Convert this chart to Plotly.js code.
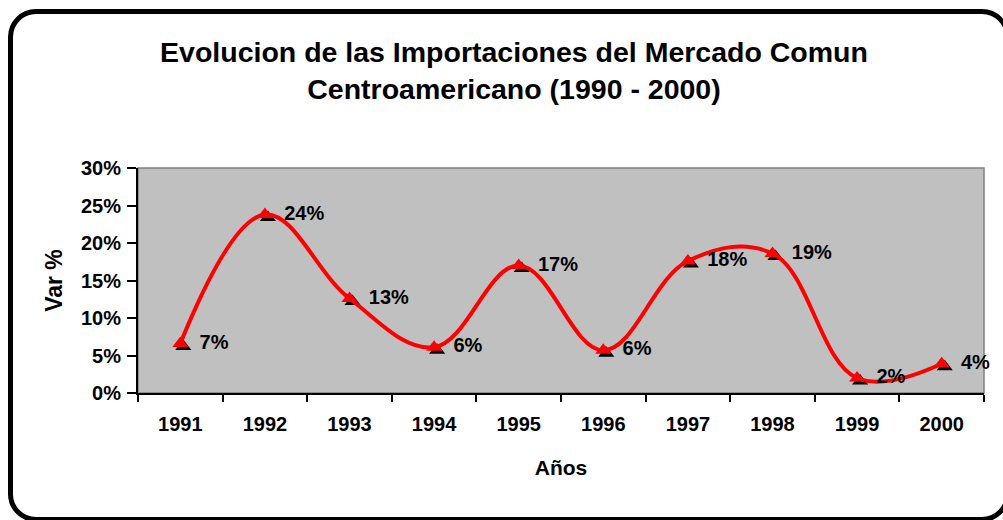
<!DOCTYPE html>
<html>
<head>
<meta charset="utf-8">
<script src="https://cdn.plot.ly/plotly-3.0.1.min.js"></script>
<style>
  html, body { margin: 0; padding: 0; background: #ffffff; overflow: hidden; }
  #wrap { position: relative; width: 1003px; height: 520px; overflow: hidden; }
  #chart { position: absolute; left: 0; top: 0; width: 1003px; height: 520px; }
  #frame { position: absolute; left: 8px; top: 9px; width: 1002px; height: 513px;
           box-sizing: border-box; border: 5px solid #000; border-radius: 28px;
           pointer-events: none; }
</style>
</head>
<body>
<div id="wrap">
  <div id="chart"></div>
  <div id="frame"></div>
</div>
<script>
// ---- data ----
const years = ['1991', '1992', '1993', '1994', '1995', '1996', '1997', '1998', '1999', '2000'];
const varPct = [0.066, 0.238, 0.126, 0.061, 0.170, 0.057, 0.176, 0.186, 0.020, 0.039];
const yTickVals = [0, 0.05, 0.10, 0.15, 0.20, 0.25, 0.30];
const titleText = 'Evolucion de las Importaciones del Mercado Comun<br>Centroamericano (1990 - 2000)';
const xTitle = 'Años';
const yTitle = 'Var %';

// ---- layout geometry (pixels) ----
const W = 1003, H = 520;
const mL = 138, mR = 16, mT = 168, mB = 124;
const shadowPx = 3;
const plotW = W - mL - mR, plotH = H - mT - mB;
const dx = shadowPx / plotW, dy = shadowPx / plotH;

const fontFam = 'Arial, "Liberation Sans", sans-serif';

const shadow = {
  type: 'scatter', mode: 'markers',
  x: years, y: varPct, xaxis: 'x', yaxis: 'y',
  marker: { symbol: 'triangle-up', size: 14, color: '#000000' },
  hoverinfo: 'skip', showlegend: false
};
const main = {
  type: 'scatter', mode: 'lines+markers+text',
  x: years, y: varPct, xaxis: 'x2', yaxis: 'y2',
  line: { color: '#FF0000', width: 4, shape: 'spline', smoothing: 1.1 },
  marker: { symbol: 'triangle-up', size: 14, color: '#FF0000' },
  texttemplate: '\u00a0\u2009%{y:.0%}',
  textposition: 'middle right',
  textfont: { family: fontFam, size: 20, color: '#000000', weight: 'bold' },
  hoverinfo: 'skip', showlegend: false, cliponaxis: false
};

const hiddenAxis = {
  visible: false, showgrid: false, zeroline: false, fixedrange: true
};

const layout = {
  width: W, height: H,
  margin: { l: mL, r: mR, t: mT, b: mB, pad: 0 },
  paper_bgcolor: 'rgba(0,0,0,0)',
  plot_bgcolor: 'rgba(0,0,0,0)',
  showlegend: false,
  font: { family: fontFam, color: '#000000' },
  title: {
    text: titleText,
    font: { family: fontFam, size: 28.5, color: '#000000', weight: 'bold' },
    xref: 'container', x: 514 / W, xanchor: 'center',
    yref: 'container', y: 1 - 62 / H, yanchor: 'top'
  },
  // shadow subplot (shifted right/down)
  xaxis: Object.assign({}, hiddenAxis, {
    type: 'category', categoryorder: 'array', categoryarray: years,
    range: [-0.5, years.length - 0.5], domain: [dx, 1], anchor: 'y'
  }),
  yaxis: Object.assign({}, hiddenAxis, {
    range: [0, 0.3], domain: [0, 1 - dy], anchor: 'x'
  }),
  // main visible subplot
  xaxis2: {
    type: 'category', categoryorder: 'array', categoryarray: years,
    range: [-0.5, years.length - 0.5], domain: [0, 1 - dx], anchor: 'y2',
    showline: true, linecolor: '#000000', linewidth: 2,
    ticks: 'outside', tickson: 'boundaries', ticklen: 7, tickwidth: 2, tickcolor: '#000000',
    ticklabelstandoff: 12,
    tickfont: { family: fontFam, size: 20, color: '#000000', weight: 'bold' },
    showgrid: false, zeroline: false, fixedrange: true, automargin: false,
    title: { text: xTitle, standoff: 26,
             font: { family: fontFam, size: 21, color: '#000000', weight: 'bold' } }
  },
  yaxis2: {
    range: [0, 0.3], domain: [dy, 1], anchor: 'x2',
    tickvals: yTickVals, tickformat: '.0%',
    showline: true, linecolor: '#000000', linewidth: 2,
    ticks: 'outside', ticklen: 9, tickwidth: 2, tickcolor: '#000000',
    ticklabelstandoff: 2,
    tickfont: { family: fontFam, size: 20, color: '#000000', weight: 'bold' },
    showgrid: false, zeroline: false, fixedrange: true, automargin: false,
    title: { text: yTitle, standoff: 12,
             font: { family: fontFam, size: 23, color: '#000000', weight: 'bold' } }
  },
  shapes: [{
    type: 'rect', xref: 'paper', yref: 'paper', layer: 'below',
    x0: 0, x1: 1 - dx, y0: dy, y1: 1,
    fillcolor: '#C0C0C0', line: { color: '#808080', width: 1.5 }
  }]
};

Plotly.newPlot('chart', [shadow, main], layout, { staticPlot: true, displayModeBar: false });
</script>
</body>
</html>
